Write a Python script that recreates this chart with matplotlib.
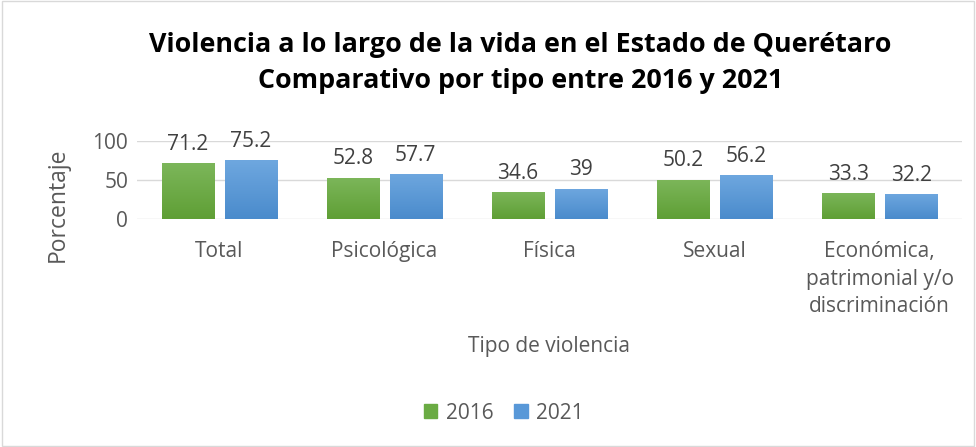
import matplotlib
matplotlib.use("Agg")
import matplotlib.pyplot as plt
import numpy as np
from matplotlib.patches import Rectangle, Patch
from matplotlib.colors import LinearSegmentedColormap

categories = ["Total", "Psicológica", "Física", "Sexual", "Económica,\npatrimonial y/o\ndiscriminación"]
v2016 = [71.2, 52.8, 34.6, 50.2, 33.3]
v2021 = [75.2, 57.7, 39, 56.2, 32.2]
series_names = ["2016", "2021"]
yticks = [0, 50, 100]

plt.rcParams['font.family'] = ['Open Sans', 'DejaVu Sans']
txt = '#595959'
fs = 15

fig = plt.figure(figsize=(9.76, 4.47), dpi=100)
fig.patches.append(Rectangle((0.002, 0.003), 0.996, 0.994, transform=fig.transFigure,
                             fill=False, edgecolor='#d9d9d9', linewidth=1))
ax = fig.add_axes([0.140, 0.510, 0.846, 0.175])

x = np.arange(len(categories))
w = 0.315
off = 0.19
c1, c2 = '#6aab43', '#5898d8'
grads = {
    'g': LinearSegmentedColormap.from_list('g', ['#5f9f35', '#7cb65a']),
    'b': LinearSegmentedColormap.from_list('b', ['#4a8bcc', '#6ea7df']),
}
b1 = ax.bar(x - off, v2016, w, color=c1, zorder=3)
b2 = ax.bar(x + off, v2021, w, color=c2, zorder=3)
grad = np.linspace(0, 1, 100).reshape(-1, 1)
for bars, cm in ((b1, grads['g']), (b2, grads['b'])):
    for b in bars:
        x0, y0 = b.get_x(), b.get_y()
        im = ax.imshow(grad, cmap=cm, origin='lower', aspect='auto',
                       extent=(x0, x0 + b.get_width(), y0, y0 + b.get_height()), zorder=3.5)
        im.set_clip_path(b)

for bars, vals in ((b1, v2016), (b2, v2021)):
    for b, v in zip(bars, vals):
        ax.annotate(f"{v:g}", (b.get_x() + b.get_width() / 2, v), xytext=(0, 6),
                    textcoords='offset points', ha='center', va='bottom',
                    fontsize=fs, color='#404040', clip_on=False)

ax.set_xlim(-0.5, len(categories) - 0.5)
ax.set_ylim(0, 100)
ax.set_yticks(yticks)
ax.yaxis.grid(True, color='#d9d9d9', linewidth=1, zorder=0)
for s in ax.spines.values():
    s.set_visible(False)
ax.tick_params(axis='both', length=0, labelsize=fs, colors=txt, pad=6)
ax.set_xticks(x)
ax.set_xticklabels(categories, va='top', linespacing=1.4)
ax.tick_params(axis='x', pad=16)
ax.set_ylabel("Porcentaje", fontsize=16.5, color=txt)
ax.yaxis.set_label_coords(-0.081, 0.18)

fig.text(0.533, 0.858, "Violencia a lo largo de la vida en el Estado de Querétaro\nComparativo por tipo entre 2016 y 2021",
         ha='center', va='center', fontsize=19.4, fontweight='bold', color='black', linespacing=1.5)
fig.text(0.562, 0.224, "Tipo de violencia", ha='center', va='center', fontsize=fs, color=txt)

handles = [Patch(color=c1), Patch(color=c2)]
fig.legend(handles, series_names, loc='center', bbox_to_anchor=(0.516, 0.076), ncol=2, frameon=False,
           fontsize=fs, labelcolor=txt, handlelength=0.65, handleheight=0.65, handletextpad=0.4,
           columnspacing=1.0)

fig.savefig("out.png", dpi=100)
